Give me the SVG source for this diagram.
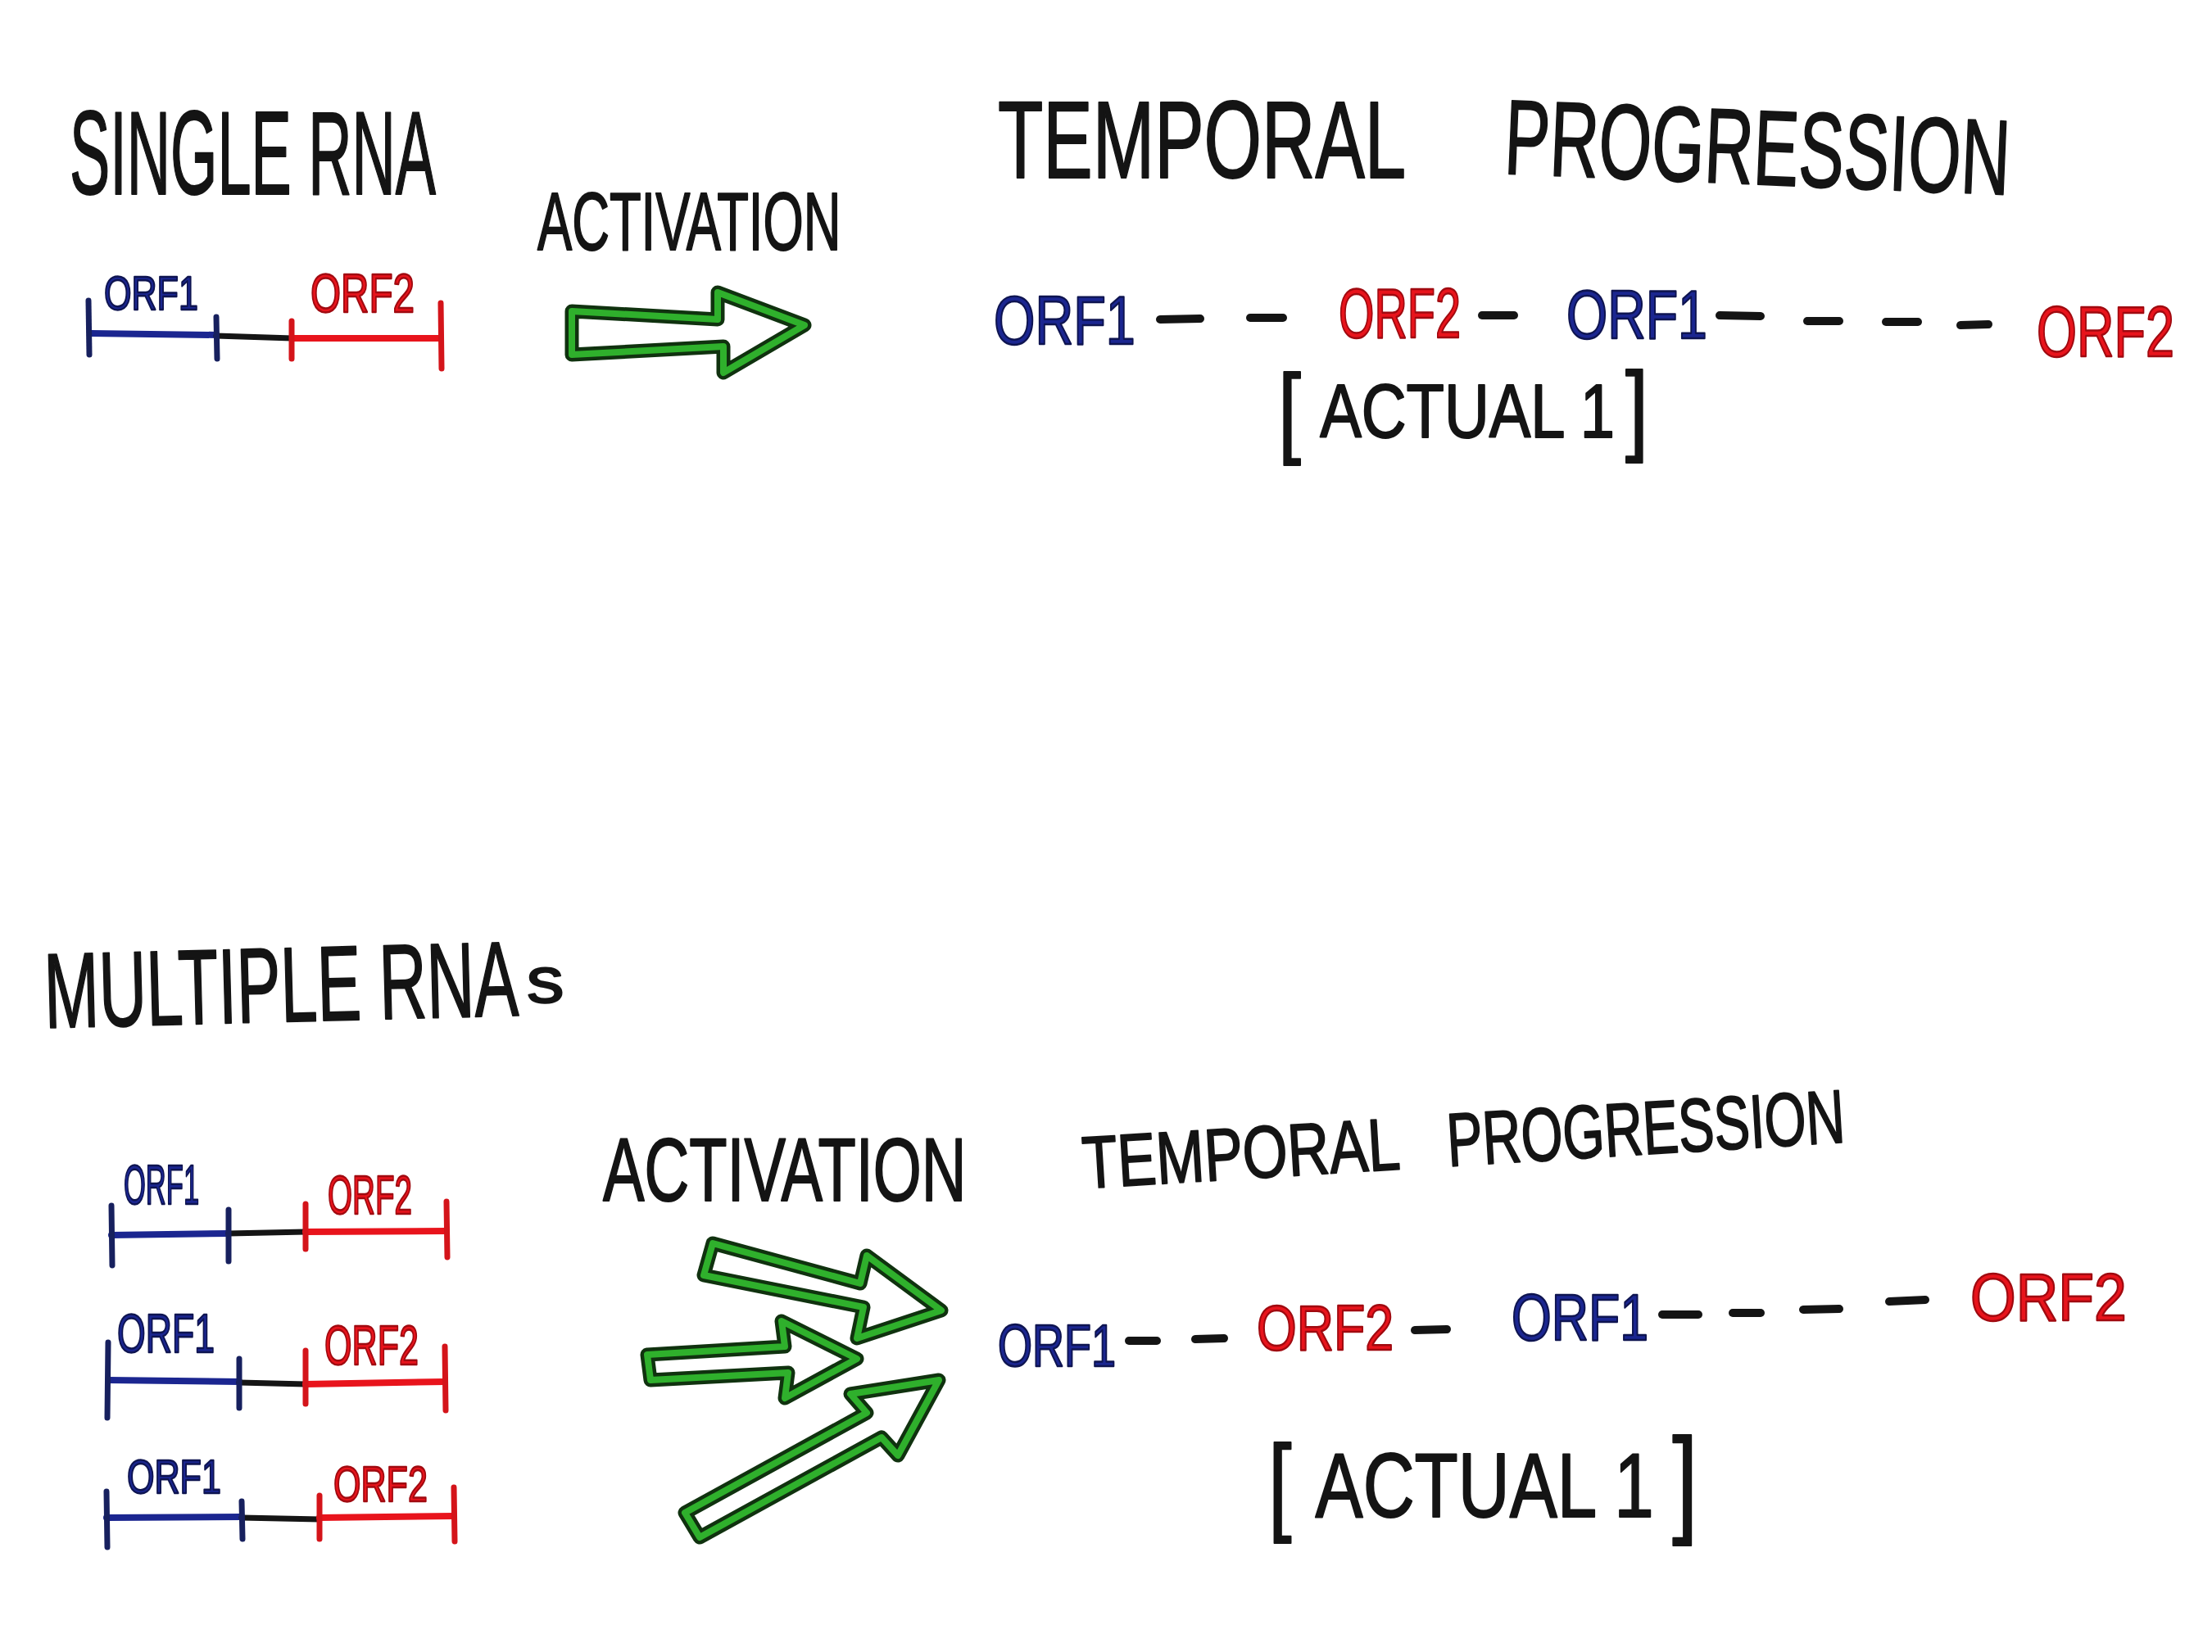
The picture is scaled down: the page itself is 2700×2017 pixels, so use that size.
<svg xmlns="http://www.w3.org/2000/svg" width="2700" height="2017" viewBox="0 0 2700 2017">
<style>
text{font-family:"Liberation Sans","DejaVu Sans",sans-serif;stroke-linejoin:round}
.k{fill:#141414;stroke:#141414;stroke-width:2}
.b{fill:#1b2690;stroke:#0e1450;stroke-width:2.5}
.r{fill:#e8141c;stroke:#a00a10;stroke-width:2.5}
.lb{stroke:#1b2690;stroke-width:8;stroke-linecap:round;fill:none}
.lk{stroke:#151515;stroke-width:7;stroke-linecap:round;fill:none}
.lr{stroke:#e8141c;stroke-width:8;stroke-linecap:round;fill:none}
.tb{stroke:#17205e;stroke-width:7;stroke-linecap:round}
.tr{stroke:#d4141a;stroke-width:7;stroke-linecap:round}
.dash{stroke:#141414;stroke-width:10;stroke-linecap:round}
.ao{fill:#fff;stroke:#10320f;stroke-width:17;stroke-linejoin:round}
.ai{fill:none;stroke:#2fb02c;stroke-width:8;stroke-linejoin:round}
</style>
<rect width="2700" height="2017" fill="#fff"/>

<!-- Top section -->
<g id="title-single">
<text class="k" x="85" y="237" font-size="145" transform="translate(85 0) scale(0.509 1) translate(-85 0)">SINGLE RNA</text>
</g>
<g id="label-activation-top">
<text class="k" x="656" y="305" font-size="100" transform="translate(656 0) scale(0.633 1) translate(-656 0)">ACTIVATION</text>
</g>
<g id="rna-single">
<text class="b" x="127" y="378" font-size="58" transform="translate(127 0) scale(0.743 1) translate(-127 0)">ORF1</text>
<text class="r" x="379" y="381" font-size="66" transform="translate(379 0) scale(0.722 1) translate(-379 0)">ORF2</text>
<path class="lb" d="M111 407 L264 409"/>
<path class="lk" d="M264 410 L357 413"/>
<path class="lr" d="M357 413 L537 413"/>
<line class="tb" x1="108" y1="367" x2="109" y2="433"/>
<line class="tb" x1="264" y1="387" x2="265" y2="438"/>
<line class="tr" x1="356" y1="392" x2="356" y2="438"/>
<line class="tr" x1="538" y1="370" x2="539" y2="450"/>
</g>
<g id="title-temporal-top">
<text class="k" x="1218" y="217" font-size="134" transform="translate(1218 0) scale(0.676 1) translate(-1218 0)">TEMPORAL</text>
<text class="k" x="1835" y="212" font-size="130" transform="rotate(2.4 1835 212) translate(1835 0) scale(0.638 1) translate(-1835 0)">PROGRESSION</text>
</g>
<g id="seq-top">
<text class="b" x="1213" y="420" font-size="83" transform="translate(1213 0) scale(0.781 1) translate(-1213 0)">ORF1</text>
<text class="r" x="1634" y="412" font-size="86" transform="translate(1634 0) scale(0.650 1) translate(-1634 0)">ORF2</text>
<text class="b" x="1912" y="413" font-size="83" transform="translate(1912 0) scale(0.777 1) translate(-1912 0)">ORF1</text>
<text class="r" x="2486" y="435" font-size="88" transform="translate(2486 0) scale(0.716 1) translate(-2486 0)">ORF2</text>
</g>
<g id="actual-top">
<text class="k" transform="translate(1560 0) scale(0.825 1) translate(-1560 0)"><tspan x="1560" y="543" font-size="122">[</tspan><tspan x="1622" y="534" font-size="92">ACTUAL 1</tspan><tspan x="2074" y="540" font-size="122">]</tspan></text>
</g>

<!-- Bottom section -->
<g id="title-multiple">
<text class="k" transform="rotate(-1.5 55 1255) translate(55 0) scale(0.618 1) translate(-55 0)"><tspan x="55" y="1255" font-size="130">MULTIPLE RNA</tspan><tspan x="1008" y="1240" font-size="79" textLength="74" lengthAdjust="spacingAndGlyphs">s</tspan></text>
</g>
<g id="label-activation-bottom">
<text class="k" x="736" y="1466" font-size="110" transform="translate(736 0) scale(0.689 1) translate(-736 0)">ACTIVATION</text>
</g>
<g id="rna-1">
<text class="b" x="151" y="1470" font-size="68" transform="translate(151 0) scale(0.508 1) translate(-151 0)">ORF1</text>
<text class="r" x="400" y="1482" font-size="66" transform="translate(400 0) scale(0.585 1) translate(-400 0)">ORF2</text>
<path class="lb" d="M136 1508 L279 1506"/>
<path class="lk" d="M279 1506 L373 1504"/>
<path class="lr" d="M373 1504 L545 1503"/>
<line class="tb" x1="136" y1="1472" x2="137" y2="1545"/>
<line class="tb" x1="279" y1="1477" x2="279" y2="1540"/>
<line class="tr" x1="373" y1="1470" x2="373" y2="1525"/>
<line class="tr" x1="545" y1="1467" x2="546" y2="1535"/>
</g>
<g id="rna-2">
<text class="b" x="143" y="1651" font-size="66" transform="translate(143 0) scale(0.676 1) translate(-143 0)">ORF1</text>
<text class="r" x="396" y="1666" font-size="68" transform="translate(396 0) scale(0.634 1) translate(-396 0)">ORF2</text>
<path class="lb" d="M132 1685 L292 1687"/>
<path class="lk" d="M292 1688 L373 1690"/>
<path class="lr" d="M373 1690 L543 1687"/>
<line class="tb" x1="132" y1="1639" x2="131" y2="1731"/>
<line class="tb" x1="292" y1="1659" x2="292" y2="1719"/>
<line class="tr" x1="373" y1="1649" x2="373" y2="1714"/>
<line class="tr" x1="543" y1="1644" x2="544" y2="1722"/>
</g>
<g id="rna-3">
<text class="b" x="155" y="1823" font-size="58" transform="translate(155 0) scale(0.743 1) translate(-155 0)">ORF1</text>
<text class="r" x="407" y="1833" font-size="62" transform="translate(407 0) scale(0.695 1) translate(-407 0)">ORF2</text>
<path class="lb" d="M130 1853 L295 1852"/>
<path class="lk" d="M295 1853 L390 1855"/>
<path class="lr" d="M390 1853 L554 1851"/>
<line class="tb" x1="130" y1="1821" x2="131" y2="1889"/>
<line class="tb" x1="295" y1="1833" x2="296" y2="1879"/>
<line class="tr" x1="390" y1="1826" x2="390" y2="1879"/>
<line class="tr" x1="554" y1="1816" x2="555" y2="1882"/>
</g>
<g id="title-temporal-bottom">
<text class="k" x="1323" y="1451" font-size="90" transform="rotate(-3.5 1323 1451) translate(1323 0) scale(0.784 1) translate(-1323 0)">TEMPORAL</text>
<text class="k" x="1768" y="1424" font-size="92" transform="rotate(-3.5 1768 1424) translate(1768 0) scale(0.710 1) translate(-1768 0)">PROGRESSION</text>
</g>
<g id="seq-bottom">
<text class="b" x="1218" y="1668" font-size="72" transform="translate(1218 0) scale(0.75 1) translate(-1218 0)">ORF1</text>
<text class="r" x="1534" y="1648" font-size="78" transform="translate(1534 0) scale(0.803 1) translate(-1534 0)">ORF2</text>
<text class="b" x="1845" y="1636" font-size="80" transform="translate(1845 0) scale(0.783 1) translate(-1845 0)">ORF1</text>
<text class="r" x="2405" y="1612" font-size="82" transform="translate(2405 0) scale(0.873 1) translate(-2405 0)">ORF2</text>
</g>
<g id="actual-bottom">
<text class="k" transform="translate(1548 0) scale(0.778 1) translate(-1548 0)"><tspan x="1548" y="1857" font-size="132">[</tspan><tspan x="1622" y="1852" font-size="112">ACTUAL 1</tspan><tspan x="2182" y="1857" font-size="144">]</tspan></text>
</g>

<g id="connectors">
<g id="arrow-top">
<polygon class="ao" points="698,380 876,390 876,357 982,397 883,455 883,423 698,433"/>
<polygon class="ai" points="698,380 876,390 876,357 982,397 883,455 883,423 698,433"/>
</g>
<g id="arrow-b1">
<polygon class="ao" points="870,1518 1050,1567 1058,1533 1149,1600 1046,1634 1054,1596 859,1557"/>
<polygon class="ai" points="870,1518 1050,1567 1058,1533 1149,1600 1046,1634 1054,1596 859,1557"/>
</g>
<g id="arrow-b2">
<polygon class="ao" points="790,1654 958,1644 954,1613 1046,1659 958,1707 962,1676 794,1685"/>
<polygon class="ai" points="790,1654 958,1644 954,1613 1046,1659 958,1707 962,1676 794,1685"/>
</g>
<g id="arrow-b3">
<polygon class="ao" points="836,1847 1058,1725 1038,1702 1146,1685 1096,1777 1076,1755 854,1877"/>
<polygon class="ai" points="836,1847 1058,1725 1038,1702 1146,1685 1096,1777 1076,1755 854,1877"/>
</g>
<line class="dash" x1="1416" y1="390" x2="1465" y2="389"/>
<line class="dash" x1="1526" y1="388" x2="1566" y2="388"/>
<line class="dash" x1="1809" y1="385" x2="1848" y2="385"/>
<line class="dash" x1="2099" y1="385" x2="2149" y2="386"/>
<line class="dash" x1="2206" y1="392" x2="2245" y2="392"/>
<line class="dash" x1="2302" y1="393" x2="2341" y2="393"/>
<line class="dash" x1="2393" y1="397" x2="2427" y2="396"/>
<line class="dash" x1="1378" y1="1637" x2="1412" y2="1637"/>
<line class="dash" x1="1459" y1="1635" x2="1494" y2="1634"/>
<line class="dash" x1="1727" y1="1624" x2="1766" y2="1623"/>
<line class="dash" x1="2029" y1="1605" x2="2073" y2="1605"/>
<line class="dash" x1="2115" y1="1603" x2="2149" y2="1603"/>
<line class="dash" x1="2201" y1="1599" x2="2245" y2="1598"/>
<line class="dash" x1="2306" y1="1589" x2="2350" y2="1587"/>
</g>
</svg>
